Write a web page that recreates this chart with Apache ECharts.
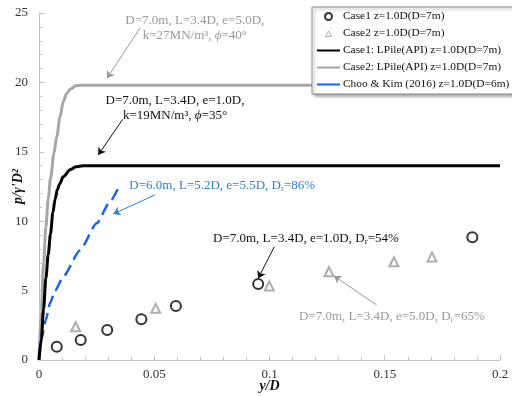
<!DOCTYPE html>
<html>
<head>
<meta charset="utf-8">
<script src="https://cdn.jsdelivr.net/npm/echarts@6/dist/echarts.min.js"></script>
<style>
  html, body { margin: 0; padding: 0; background: #fff; }
  #chart { width: 512px; height: 396px; }
</style>
</head>
<body>
<div id="chart"></div>
<script>
// == Data ====================================================================

const case1Points = [
  [0.0077, 0.96], [0.0181, 1.44], [0.0296, 2.16], [0.0444, 2.93],
  [0.0594, 3.89], [0.0951, 5.47], [0.188, 8.84]
]
const case2Points = [
  [0.0159, 2.4], [0.0506, 3.72], [0.0999, 5.33], [0.1258, 6.36],
  [0.154, 7.08], [0.1705, 7.42]
]
const case1LPile = [
  [0, 0], [0.001, 1.5], [0.002, 3.7], [0.003, 5.9], [0.004, 7.6], [0.005, 9.1],
  [0.006, 10.6], [0.007, 11.6], [0.008, 12.3], [0.009, 12.7], [0.0105, 13.2],
  [0.0135, 13.7], [0.016, 13.92], [0.019, 14.0], [0.2, 14.0]
]
const case2LPile = [
  [0, 0], [0.001, 3.5], [0.002, 7.0], [0.003, 9.6], [0.004, 11.6], [0.005, 13.1],
  [0.0065, 14.9], [0.0077, 16.1], [0.0091, 17.5], [0.0105, 18.6], [0.012, 19.2],
  [0.0135, 19.5], [0.016, 19.75], [0.0185, 19.8], [0.2, 19.8]
]
const chooKim = [
  [0, 0], [0.0012, 1.6], [0.003, 2.9], [0.0048, 4.1], [0.007, 5.0], [0.0105, 6.0],
  [0.0178, 7.9], [0.025, 9.85], [0.0308, 11.4], [0.0347, 12.5]
]
const seriesNames = [
  'Case1 z=1.0D(D=7m)',
  'Case2 z=1.0D(D=7m)',
  'Case1: LPile(API) z=1.0D(D=7m)',
  'Case2: LPile(API) z=1.0D(D=7m)',
  'Choo & Kim (2016) z=1.0D(D=6m)'
]

// annotations, anchored in data space
const notes = [
  {text: 'D=7.0m, L=3.4D, e=5.0D,\nk=27MN/m³, {phi|ϕ}=40°', at: [0.0676, 23.9], align: 'center', color: '#999'},
  {text: 'D=7.0m, L=3.4D, e=1.0D,\nk=19MN/m³, {phi|ϕ}=35°', at: [0.059, 18.15], align: 'center', color: '#111'},
  {text: 'D=6.0m, L=5.2D, e=5.5D, D{sub|r}=86%', at: [0.0392, 12.54], align: 'left', color: '#2e7fd0'},
  {text: 'D=7.0m, L=3.4D, e=1.0D, D{sub|r}=54%', at: [0.0755, 8.77], align: 'left', color: '#111'},
  {text: 'D=7.0m, L=3.4D, e=5.0D, D{sub|r}=65%', at: [0.1128, 3.12], align: 'left', color: '#999'}
]
const arrows = [
  {from: [0.0438, 23.9], to: [0.0295, 20.3], color: '#999'},
  {from: [0.0363, 17.34], to: [0.0257, 14.77], color: '#111'},
  {from: [0.0503, 11.89], to: [0.0322, 10.52], color: '#2e7fd0'},
  {from: [0.1021, 8.16], to: [0.0951, 5.89], color: '#111'},
  {from: [0.1465, 3.96], to: [0.128, 6.05], color: '#999'}
]

// == Chart ===================================================================

const FONT = 'Liberation Serif'
const AXIS_COLOR = '#c4c4c4'
const chart = echarts.init(document.getElementById('chart'), null, {renderer: 'canvas'})

const axisCommon = {
  axisLine: {show: true, lineStyle: {color: AXIS_COLOR, width: 1}},
  axisTick: {show: true, inside: true, length: 5, lineStyle: {color: AXIS_COLOR}},
  minorTick: {show: true, splitNumber: 5, length: 3, lineStyle: {color: AXIS_COLOR}},
  splitLine: {show: false},
  axisLabel: {fontFamily: FONT, fontSize: 13, color: '#333'},
  nameMoveOverlap: false,
  nameTextStyle: {fontFamily: FONT, fontSize: 14, fontWeight: 'bold', fontStyle: 'italic', color: '#111'}
}

// line series get a plain line in the legend, no dot
const hideDot = {itemStyle: {opacity: 0, borderWidth: 0}}
// small hollow triangle centred in a 23x7 legend box (the lone moves set the box)
const triIcon = 'path://M0,0M23,7M8.5,6.5L11.5,1L14.5,6.5Z'

chart.setOption({
  animation: false,
  textStyle: {fontFamily: FONT},
  grid: {left: 39, right: 12, top: 13, bottom: 36, containLabel: false, outerBoundsMode: 'none'},
  xAxis: Object.assign({}, axisCommon, {
    type: 'value', min: 0, max: 0.2, interval: 0.05,
    name: 'y/D', nameLocation: 'middle', nameGap: 19,
    axisLabel: Object.assign({}, axisCommon.axisLabel, {margin: 8})
  }),
  yAxis: Object.assign({}, axisCommon, {
    type: 'value', min: 0, max: 25, interval: 5,
    name: "p/γ'D²", nameLocation: 'middle', nameGap: 14, nameRotate: 90,
    axisLabel: Object.assign({}, axisCommon.axisLabel, {margin: 11})
  }),
  legend: {
    orient: 'vertical', left: 312, top: 7,
    itemWidth: 23, itemHeight: 7, itemGap: 6,
    padding: [4, 10, 4, 4],
    borderColor: '#8a8a8a', borderWidth: 1, backgroundColor: '#fff',
    shadowColor: 'rgba(0,0,0,0.35)', shadowBlur: 3, shadowOffsetX: 2, shadowOffsetY: 2,
    textStyle: {fontFamily: FONT, fontSize: 11.4, color: '#111', padding: [0, 0, 0, -2]},
    data: [
      seriesNames[0],
      {name: seriesNames[1], icon: triIcon, itemStyle: {color: '#fff', borderColor: '#9a9a9a', borderWidth: 1}},
      Object.assign({name: seriesNames[2]}, hideDot),
      Object.assign({name: seriesNames[3]}, hideDot),
      Object.assign({name: seriesNames[4], lineStyle: {type: 'solid'}}, hideDot)
    ]
  },
  series: [
    {
      name: seriesNames[0], type: 'scatter', data: case1Points,
      symbol: 'emptyCircle', symbolSize: 10,
      itemStyle: {color: '#000', borderWidth: 2}, z: 5
    },
    {
      name: seriesNames[1], type: 'scatter', data: case2Points,
      symbol: 'emptyTriangle', symbolSize: 9,
      itemStyle: {color: '#9a9a9a', borderWidth: 1.5}, z: 5
    },
    {
      name: seriesNames[2], type: 'line', data: case1LPile, symbol: 'none',
      smooth: 0.3, smoothMonotone: 'x',
      lineStyle: {color: '#000', width: 3}, itemStyle: {color: '#000'}, z: 4
    },
    {
      name: seriesNames[3], type: 'line', data: case2LPile, symbol: 'none',
      smooth: 0.3, smoothMonotone: 'x',
      lineStyle: {color: '#a6a6a6', width: 3}, itemStyle: {color: '#a6a6a6'}, z: 3
    },
    {
      name: seriesNames[4], type: 'line', data: chooKim, symbol: 'none',
      smooth: 0.2, smoothMonotone: 'x',
      lineStyle: {color: '#1f63e0', width: 2.5, type: [12, 6]}, itemStyle: {color: '#1f63e0'}, z: 3
    },
    {
      name: 'arrows', type: 'line', data: [], silent: true,
      markLine: {
        silent: true, symbol: ['none', 'arrow'], symbolSize: 7,
        label: {show: false}, emphasis: {disabled: true},
        data: arrows.map(a => [
          {coord: a.from, lineStyle: {color: a.color, width: 1, type: 'solid'}},
          {coord: a.to}
        ])
      }
    }
  ]
})

chart.setOption({
  graphic: notes.map(n => {
    const p = chart.convertToPixel({gridIndex: 0}, n.at)
    return {
      type: 'text', x: p[0], y: p[1], silent: true,
      style: {
        text: n.text, fill: n.color, font: '13px ' + FONT,
        align: n.align, verticalAlign: 'middle', lineHeight: 15,
        rich: {
          phi: {fontStyle: 'italic', fontSize: 13, fontFamily: FONT},
          sub: {fontSize: 9, fontFamily: FONT, padding: [6, 0, 0, 0]}
        }
      }
    }
  })
})
</script>
</body>
</html>
